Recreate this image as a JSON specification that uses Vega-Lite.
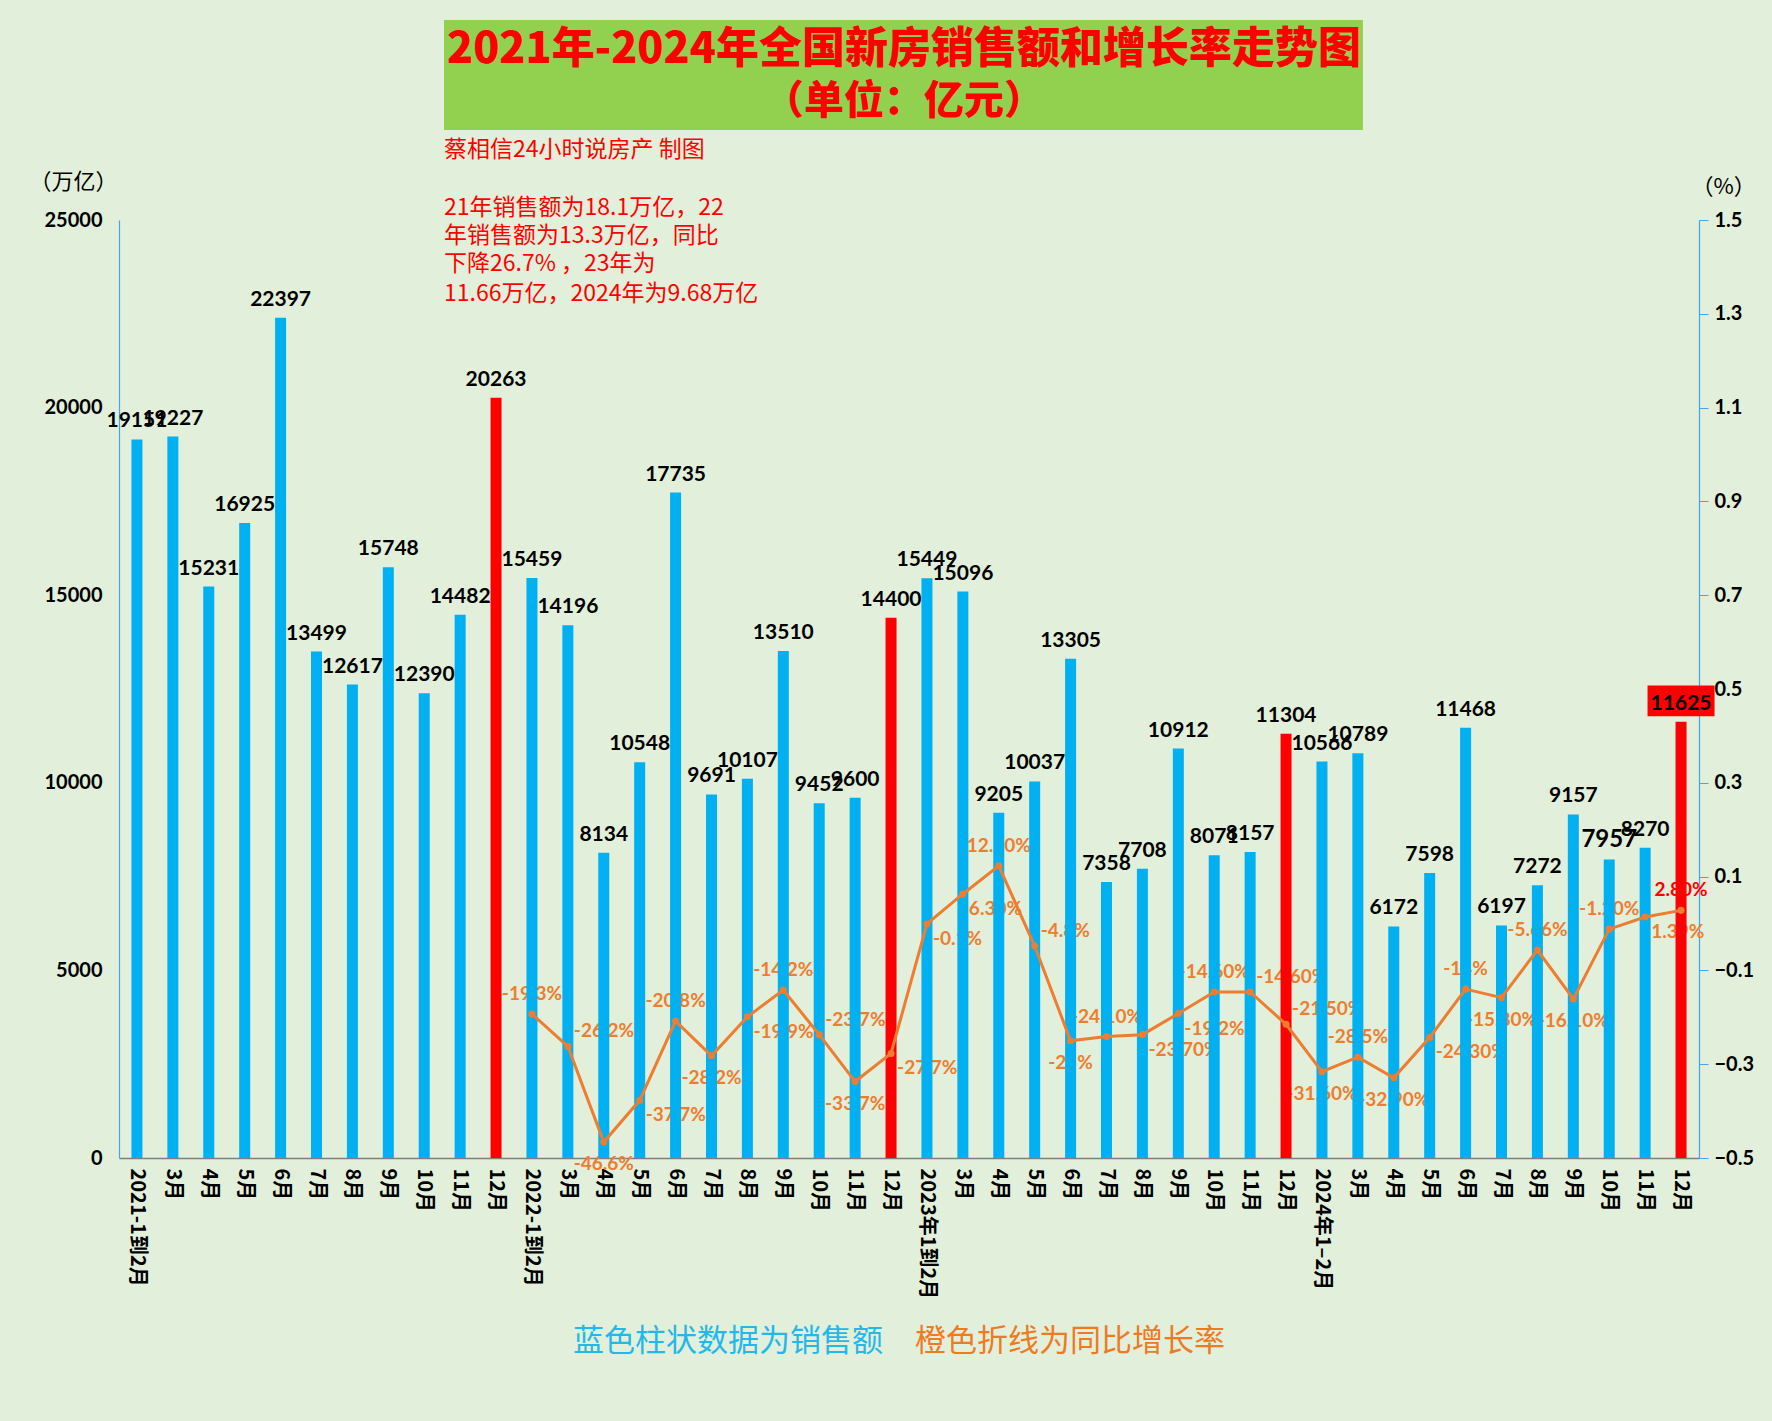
{
  "$schema": "https://vega.github.io/schema/vega-lite/v6.json",
  "width": 1580,
  "height": 938,
  "autosize": "none",
  "padding": {"left": 119, "top": 220, "right": 73, "bottom": 263},
  "background": "#E2EFDA",
  "config": {
    "view": {"stroke": null},
    "font": "Noto Sans CJK SC",
    "axisX": {
      "labelExpr": "split(datum.value, '|')[1]", "labelAngle": 90, "labelAlign": "left", "labelBaseline": "middle",
      "ticks": false, "labelPadding": 10, "labelFont": "Noto Sans CJK SC", "labelFontWeight": "bold", "labelFontSize": 20,
      "labelColor": "#000000", "labelOverlap": false, "labelLimit": 0, "domainColor": "#7F7F7F", "domainWidth": 1.5, "grid": false
    }
  },
  "datasets": {
    "sales": [
      {"k": "2021-02|2021-1到2月", "sales": 19151, "yoy": null, "yl": null},
      {"k": "2021-03|3月", "sales": 19227, "yoy": null, "yl": null},
      {"k": "2021-04|4月", "sales": 15231, "yoy": null, "yl": null},
      {"k": "2021-05|5月", "sales": 16925, "yoy": null, "yl": null},
      {"k": "2021-06|6月", "sales": 22397, "yoy": null, "yl": null},
      {"k": "2021-07|7月", "sales": 13499, "yoy": null, "yl": null},
      {"k": "2021-08|8月", "sales": 12617, "yoy": null, "yl": null},
      {"k": "2021-09|9月", "sales": 15748, "yoy": null, "yl": null},
      {"k": "2021-10|10月", "sales": 12390, "yoy": null, "yl": null},
      {"k": "2021-11|11月", "sales": 14482, "yoy": null, "yl": null},
      {"k": "2021-12|12月", "sales": 20263, "yoy": null, "yl": null},
      {"k": "2022-02|2022-1到2月", "sales": 15459, "yoy": -0.193, "yl": "-19.3%"},
      {"k": "2022-03|3月", "sales": 14196, "yoy": -0.262, "yl": "-26.2%"},
      {"k": "2022-04|4月", "sales": 8134, "yoy": -0.466, "yl": "-46.6%"},
      {"k": "2022-05|5月", "sales": 10548, "yoy": -0.377, "yl": "-37.7%"},
      {"k": "2022-06|6月", "sales": 17735, "yoy": -0.208, "yl": "-20.8%"},
      {"k": "2022-07|7月", "sales": 9691, "yoy": -0.282, "yl": "-28.2%"},
      {"k": "2022-08|8月", "sales": 10107, "yoy": -0.199, "yl": "-19.9%"},
      {"k": "2022-09|9月", "sales": 13510, "yoy": -0.142, "yl": "-14.2%"},
      {"k": "2022-10|10月", "sales": 9452, "yoy": -0.237, "yl": "-23.7%"},
      {"k": "2022-11|11月", "sales": 9600, "yoy": -0.337, "yl": "-33.7%"},
      {"k": "2022-12|12月", "sales": 14400, "yoy": -0.277, "yl": "-27.7%"},
      {"k": "2023-02|2023年1到2月", "sales": 15449, "yoy": -0.001, "yl": "-0.1%"},
      {"k": "2023-03|3月", "sales": 15096, "yoy": 0.063, "yl": "6.30%"},
      {"k": "2023-04|4月", "sales": 9205, "yoy": 0.123, "yl": "12.30%"},
      {"k": "2023-05|5月", "sales": 10037, "yoy": -0.048, "yl": "-4.8%"},
      {"k": "2023-06|6月", "sales": 13305, "yoy": -0.25, "yl": "-25%"},
      {"k": "2023-07|7月", "sales": 7358, "yoy": -0.241, "yl": "-24.10%"},
      {"k": "2023-08|8月", "sales": 7708, "yoy": -0.237, "yl": "-23.70%"},
      {"k": "2023-09|9月", "sales": 10912, "yoy": -0.192, "yl": "-19.2%"},
      {"k": "2023-10|10月", "sales": 8071, "yoy": -0.146, "yl": "-14.60%"},
      {"k": "2023-11|11月", "sales": 8157, "yoy": -0.146, "yl": "-14.60%"},
      {"k": "2023-12|12月", "sales": 11304, "yoy": -0.215, "yl": "-21.50%"},
      {"k": "2024-02|2024年1–2月", "sales": 10566, "yoy": -0.316, "yl": "-31.60%"},
      {"k": "2024-03|3月", "sales": 10789, "yoy": -0.285, "yl": "-28.5%"},
      {"k": "2024-04|4月", "sales": 6172, "yoy": -0.329, "yl": "-32.90%"},
      {"k": "2024-05|5月", "sales": 7598, "yoy": -0.243, "yl": "-24.30%"},
      {"k": "2024-06|6月", "sales": 11468, "yoy": -0.14, "yl": "-14%"},
      {"k": "2024-07|7月", "sales": 6197, "yoy": -0.158, "yl": "-15.80%"},
      {"k": "2024-08|8月", "sales": 7272, "yoy": -0.0566, "yl": "-5.66%"},
      {"k": "2024-09|9月", "sales": 9157, "yoy": -0.161, "yl": "-16.10%"},
      {"k": "2024-10|10月", "sales": 7957, "yoy": -0.012, "yl": "-1.20%"},
      {"k": "2024-11|11月", "sales": 8270, "yoy": 0.0139, "yl": "1.39%"},
      {"k": "2024-12|12月", "sales": 11625, "yoy": 0.028, "yl": "2.80%"}
    ]
  },
  "layer": [
    {
      "layer": [
        {
          "data": {"values": [{}]},
          "mark": {"type": "rect", "color": "#92D050"},
          "encoding": {
            "x": {"datum": 0.2057, "type": "quantitative", "scale": {"domain": [0, 1], "nice": false, "zero": false}, "axis": null},
            "x2": {"datum": 0.7873},
            "y": {"datum": 1.2132, "type": "quantitative", "scale": {"domain": [0, 1], "nice": false, "zero": false}, "axis": null},
            "y2": {"datum": 1.0959}
          }
        },
        {
          "data": {"values": [{}]},
          "mark": {"type": "text", "text": "2021年-2024年全国新房销售额和增长率走势图", "font": "Noto Sans CJK SC", "fontWeight": 900, "fontSize": 43, "color": "#FF0000", "align": "center", "baseline": "middle"},
          "encoding": {
            "x": {"datum": 0.4968, "type": "quantitative", "scale": {"domain": [0, 1], "nice": false, "zero": false}, "axis": null},
            "y": {"datum": 1.1812, "type": "quantitative", "scale": {"domain": [0, 1], "nice": false, "zero": false}, "axis": null}
          }
        },
        {
          "data": {"values": [{}]},
          "mark": {"type": "text", "text": "（单位：亿元）", "font": "Noto Sans CJK SC", "fontWeight": 900, "fontSize": 40, "color": "#FF0000", "align": "center", "baseline": "middle"},
          "encoding": {
            "x": {"datum": 0.4968, "type": "quantitative", "scale": {"domain": [0, 1], "nice": false, "zero": false}, "axis": null},
            "y": {"datum": 1.1258, "type": "quantitative", "scale": {"domain": [0, 1], "nice": false, "zero": false}, "axis": null}
          }
        },
        {
          "data": {"values": [{}]},
          "mark": {"type": "text", "text": "蔡相信24小时说房产 制图", "font": "Noto Sans CJK SC", "fontSize": 23, "color": "#FF0000", "align": "left", "baseline": "middle"},
          "encoding": {
            "x": {"datum": 0.2057, "type": "quantitative", "scale": {"domain": [0, 1], "nice": false, "zero": false}, "axis": null},
            "y": {"datum": 1.0746, "type": "quantitative", "scale": {"domain": [0, 1], "nice": false, "zero": false}, "axis": null}
          }
        },
        {
          "data": {"values": [{}]},
          "mark": {"type": "text", "text": "21年销售额为18.1万亿，22", "font": "Noto Sans CJK SC", "fontSize": 23, "color": "#FF0000", "align": "left", "baseline": "middle"},
          "encoding": {
            "x": {"datum": 0.2057, "type": "quantitative", "scale": {"domain": [0, 1], "nice": false, "zero": false}, "axis": null},
            "y": {"datum": 1.0128, "type": "quantitative", "scale": {"domain": [0, 1], "nice": false, "zero": false}, "axis": null}
          }
        },
        {
          "data": {"values": [{}]},
          "mark": {"type": "text", "text": "年销售额为13.3万亿，同比", "font": "Noto Sans CJK SC", "fontSize": 23, "color": "#FF0000", "align": "left", "baseline": "middle"},
          "encoding": {
            "x": {"datum": 0.2057, "type": "quantitative", "scale": {"domain": [0, 1], "nice": false, "zero": false}, "axis": null},
            "y": {"datum": 0.9829, "type": "quantitative", "scale": {"domain": [0, 1], "nice": false, "zero": false}, "axis": null}
          }
        },
        {
          "data": {"values": [{}]},
          "mark": {"type": "text", "text": "下降26.7% ，23年为", "font": "Noto Sans CJK SC", "fontSize": 23, "color": "#FF0000", "align": "left", "baseline": "middle"},
          "encoding": {
            "x": {"datum": 0.2057, "type": "quantitative", "scale": {"domain": [0, 1], "nice": false, "zero": false}, "axis": null},
            "y": {"datum": 0.9531, "type": "quantitative", "scale": {"domain": [0, 1], "nice": false, "zero": false}, "axis": null}
          }
        },
        {
          "data": {"values": [{}]},
          "mark": {"type": "text", "text": "11.66万亿，2024年为9.68万亿", "font": "Noto Sans CJK SC", "fontSize": 23, "color": "#FF0000", "align": "left", "baseline": "middle"},
          "encoding": {
            "x": {"datum": 0.2057, "type": "quantitative", "scale": {"domain": [0, 1], "nice": false, "zero": false}, "axis": null},
            "y": {"datum": 0.9211, "type": "quantitative", "scale": {"domain": [0, 1], "nice": false, "zero": false}, "axis": null}
          }
        },
        {
          "data": {"values": [{}]},
          "mark": {"type": "text", "text": "蓝色柱状数据为销售额", "font": "Noto Sans CJK SC", "fontSize": 31, "color": "#22B8EA", "align": "left", "baseline": "middle"},
          "encoding": {
            "x": {"datum": 0.2873, "type": "quantitative", "scale": {"domain": [0, 1], "nice": false, "zero": false}, "axis": null},
            "y": {"datum": -0.196, "type": "quantitative", "scale": {"domain": [0, 1], "nice": false, "zero": false}, "axis": null}
          }
        },
        {
          "data": {"values": [{}]},
          "mark": {"type": "text", "text": "橙色折线为同比增长率", "font": "Noto Sans CJK SC", "fontSize": 31, "color": "#EE7A22", "align": "left", "baseline": "middle"},
          "encoding": {
            "x": {"datum": 0.5038, "type": "quantitative", "scale": {"domain": [0, 1], "nice": false, "zero": false}, "axis": null},
            "y": {"datum": -0.196, "type": "quantitative", "scale": {"domain": [0, 1], "nice": false, "zero": false}, "axis": null}
          }
        }
      ]
    },
    {
      "layer": [
        {
          "data": {"name": "sales"},
          "transform": [
            {"filter": "datum.yoy != null"},
            {"window": [{"op": "lag", "field": "yoy", "as": "prev"}, {"op": "lead", "field": "yoy", "as": "next"}, {"op": "lead", "field": "yoy", "param": 2, "as": "next2"}], "sort": [{"field": "k"}]},
            {"filter": "((datum.prev == null || datum.yoy > datum.prev) && (datum.next == null || datum.yoy >= datum.next)) || (datum.prev != null && datum.yoy > datum.prev && datum.next != null && datum.next > datum.yoy && datum.next - datum.yoy < 0.03 && datum.next2 != null && datum.next2 > datum.next)"}
          ],
          "mark": {"type": "text", "dy": -20, "align": "center", "font": "Lato", "fontWeight": "bold", "fontSize": 19, "baseline": "middle"},
          "encoding": {
            "x": {"field": "k", "type": "nominal", "sort": "ascending", "title": null},
            "y": {"field": "yoy", "type": "quantitative", "scale": {"domain": [-0.5, 1.5], "nice": false, "zero": false}, "axis": null},
            "text": {"field": "yl"},
            "color": {"condition": {"test": "datum.k == '2024-12|12月'", "value": "#FF0000"}, "value": "#ED7D31"}
          }
        },
        {
          "data": {"name": "sales"},
          "transform": [
            {"filter": "datum.yoy != null"},
            {"window": [{"op": "lag", "field": "yoy", "as": "prev"}, {"op": "lead", "field": "yoy", "as": "next"}, {"op": "lead", "field": "yoy", "param": 2, "as": "next2"}], "sort": [{"field": "k"}]},
            {"filter": "!(((datum.prev == null || datum.yoy > datum.prev) && (datum.next == null || datum.yoy >= datum.next)) || (datum.prev != null && datum.yoy > datum.prev && datum.next != null && datum.next > datum.yoy && datum.next - datum.yoy < 0.03 && datum.next2 != null && datum.next2 > datum.next))"},
            {"filter": "(datum.prev == null || datum.yoy < datum.prev) && (datum.next == null || datum.yoy <= datum.next)"}
          ],
          "mark": {"type": "text", "dy": 22, "align": "center", "font": "Lato", "fontWeight": "bold", "fontSize": 19, "baseline": "middle"},
          "encoding": {
            "x": {"field": "k", "type": "nominal", "sort": "ascending", "title": null},
            "y": {"field": "yoy", "type": "quantitative", "scale": {"domain": [-0.5, 1.5], "nice": false, "zero": false}, "axis": null},
            "text": {"field": "yl"},
            "color": {"condition": {"test": "datum.k == '2024-12|12月'", "value": "#FF0000"}, "value": "#ED7D31"}
          }
        },
        {
          "data": {"name": "sales"},
          "transform": [
            {"filter": "datum.yoy != null"},
            {"window": [{"op": "lag", "field": "yoy", "as": "prev"}, {"op": "lead", "field": "yoy", "as": "next"}, {"op": "lead", "field": "yoy", "param": 2, "as": "next2"}], "sort": [{"field": "k"}]},
            {"filter": "!(((datum.prev == null || datum.yoy > datum.prev) && (datum.next == null || datum.yoy >= datum.next)) || (datum.prev != null && datum.yoy > datum.prev && datum.next != null && datum.next > datum.yoy && datum.next - datum.yoy < 0.03 && datum.next2 != null && datum.next2 > datum.next))"},
            {"filter": "!((datum.prev == null || datum.yoy < datum.prev) && (datum.next == null || datum.yoy <= datum.next))"},
            {"filter": "datum.next != null && datum.next > datum.yoy"}
          ],
          "mark": {"type": "text", "dx": 6, "dy": 15, "align": "left", "font": "Lato", "fontWeight": "bold", "fontSize": 19, "baseline": "middle"},
          "encoding": {
            "x": {"field": "k", "type": "nominal", "sort": "ascending", "title": null},
            "y": {"field": "yoy", "type": "quantitative", "scale": {"domain": [-0.5, 1.5], "nice": false, "zero": false}, "axis": null},
            "text": {"field": "yl"},
            "color": {"condition": {"test": "datum.k == '2024-12|12月'", "value": "#FF0000"}, "value": "#ED7D31"}
          }
        },
        {
          "data": {"name": "sales"},
          "transform": [
            {"filter": "datum.yoy != null"},
            {"window": [{"op": "lag", "field": "yoy", "as": "prev"}, {"op": "lead", "field": "yoy", "as": "next"}, {"op": "lead", "field": "yoy", "param": 2, "as": "next2"}], "sort": [{"field": "k"}]},
            {"filter": "!(((datum.prev == null || datum.yoy > datum.prev) && (datum.next == null || datum.yoy >= datum.next)) || (datum.prev != null && datum.yoy > datum.prev && datum.next != null && datum.next > datum.yoy && datum.next - datum.yoy < 0.03 && datum.next2 != null && datum.next2 > datum.next))"},
            {"filter": "!((datum.prev == null || datum.yoy < datum.prev) && (datum.next == null || datum.yoy <= datum.next))"},
            {"filter": "!(datum.next != null && datum.next > datum.yoy)"}
          ],
          "mark": {"type": "text", "dx": 6, "dy": -15, "align": "left", "font": "Lato", "fontWeight": "bold", "fontSize": 19, "baseline": "middle"},
          "encoding": {
            "x": {"field": "k", "type": "nominal", "sort": "ascending", "title": null},
            "y": {"field": "yoy", "type": "quantitative", "scale": {"domain": [-0.5, 1.5], "nice": false, "zero": false}, "axis": null},
            "text": {"field": "yl"},
            "color": {"condition": {"test": "datum.k == '2024-12|12月'", "value": "#FF0000"}, "value": "#ED7D31"}
          }
        },
        {
          "data": {"name": "sales"},
          "mark": {"type": "bar", "size": 11},
          "encoding": {
            "x": {"field": "k", "type": "nominal", "sort": "ascending", "title": null},
            "y": {
              "field": "sales", "type": "quantitative", "scale": {"domain": [0, 25000], "nice": false},
              "axis": {
                "orient": "left", "values": [0, 5000, 10000, 15000, 20000, 25000], "format": "d", "grid": false, "ticks": false,
                "domainColor": "#4BA3E3", "domainWidth": 1.2, "labelFont": "Lato", "labelFontWeight": "bold", "labelFontSize": 20,
                "labelColor": "#000000", "labelPadding": 17,
                "title": "（万亿）", "titleAngle": 0, "titleX": -46, "titleY": -39, "titleAlign": "center", "titleBaseline": "middle",
                "titleFont": "Noto Sans CJK SC", "titleFontWeight": "normal", "titleFontSize": 22, "titleColor": "#000000"
              }
            },
            "color": {"condition": {"test": "indexof(datum.k, '-12|') > 0", "value": "#FF0000"}, "value": "#00B0F0"}
          }
        },
        {
          "data": {"name": "sales"},
          "transform": [{"filter": "datum.yoy != null"}],
          "mark": {"type": "line", "color": "#ED7D31", "strokeWidth": 3},
          "encoding": {
            "x": {"field": "k", "type": "nominal", "sort": "ascending", "title": null},
            "y": {
              "field": "yoy", "type": "quantitative", "scale": {"domain": [-0.5, 1.5], "nice": false, "zero": false},
              "axis": {
                "orient": "right", "values": [-0.5, -0.3, -0.1, 0.1, 0.3, 0.5, 0.7, 0.9, 1.1, 1.3, 1.5], "format": ".1f", "grid": false,
                "ticks": true, "tickSize": 9, "tickColor": "#4BA3E3", "domainColor": "#4BA3E3", "domainWidth": 1.2,
                "labelFont": "Lato", "labelFontWeight": "bold", "labelFontSize": 20, "labelColor": "#000000", "labelPadding": 6,
                "title": "（%）", "titleAngle": 0, "titleX": 24, "titleY": -34, "titleAlign": "center", "titleBaseline": "middle",
                "titleFont": "Noto Sans CJK SC", "titleFontWeight": "normal", "titleFontSize": 22, "titleColor": "#000000"
              }
            }
          }
        },
        {
          "data": {"name": "sales"},
          "transform": [{"filter": "datum.yoy != null"}],
          "mark": {"type": "point", "filled": true, "size": 50, "color": "#ED7D31", "opacity": 1},
          "encoding": {
            "x": {"field": "k", "type": "nominal", "sort": "ascending", "title": null},
            "y": {"field": "yoy", "type": "quantitative", "scale": {"domain": [-0.5, 1.5], "nice": false, "zero": false}, "axis": null}
          }
        },
        {
          "data": {"name": "sales"},
          "transform": [{"filter": "datum.k == '2024-12|12月'"}],
          "mark": {"type": "point", "shape": "M-1,-0.46L1,-0.46L1,0.46L-1,0.46Z", "filled": true, "size": 4489, "color": "#FF0000", "opacity": 1, "yOffset": -21},
          "encoding": {
            "x": {"field": "k", "type": "nominal", "sort": "ascending", "title": null},
            "y": {"field": "sales", "type": "quantitative", "scale": {"domain": [0, 25000], "nice": false}, "axis": null}
          }
        },
        {
          "data": {"name": "sales"},
          "mark": {"type": "text", "dy": -12, "font": "Lato", "fontWeight": "bold", "baseline": "alphabetic", "color": "#000000"},
          "encoding": {
            "x": {"field": "k", "type": "nominal", "sort": "ascending", "title": null},
            "y": {"field": "sales", "type": "quantitative", "scale": {"domain": [0, 25000], "nice": false}, "axis": null},
            "text": {"field": "sales", "type": "quantitative", "format": "d"},
            "size": {"condition": {"test": "datum.k == '2024-10|10月'", "value": 24}, "value": 21}
          }
        }
      ],
      "resolve": {"scale": {"y": "independent"}}
    }
  ],
  "resolve": {"scale": {"x": "independent", "y": "independent"}}
}
